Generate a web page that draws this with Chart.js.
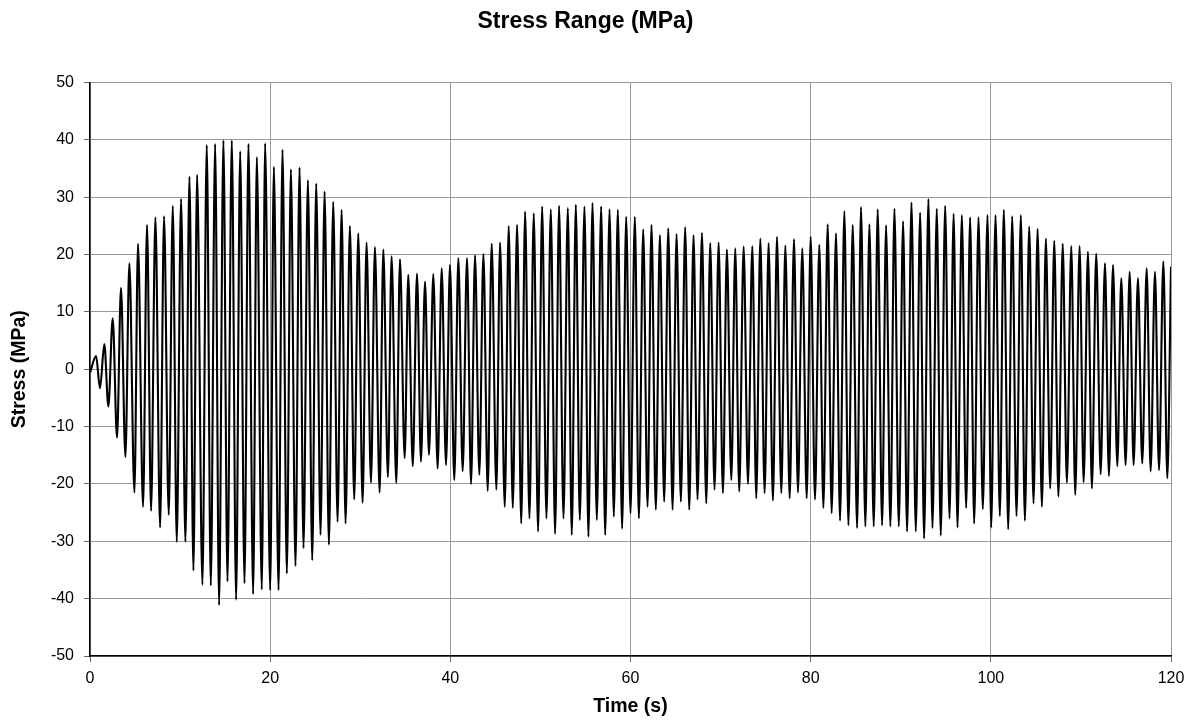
<!DOCTYPE html>
<html>
<head>
<meta charset="utf-8">
<script src="https://cdn.jsdelivr.net/npm/chart.js@4.4.1/dist/chart.umd.min.js"></script>
<style>
  body { margin: 0; background: #fff; }
  #wrap { width: 1192px; height: 720px; }
</style>
</head>
<body>
<div id="wrap"><canvas id="stressChart" width="1192" height="720"></canvas></div>
<script>
// peaks and troughs, in time order
const time = [
  0.0, 0.67, 1.11, 1.59, 2.04, 2.52, 3.0, 3.44, 3.93, 4.37, 4.93, 5.33, 5.89, 6.33, 6.78, 7.26, 7.78, 8.22, 8.74, 9.19,
  9.63, 10.11, 10.59, 11.04, 11.48, 11.89, 12.48, 12.96, 13.41, 13.89, 14.33, 14.81, 15.26, 15.74, 16.22, 16.67, 17.15, 17.59, 18.11, 18.52,
  19.07, 19.44, 20.0, 20.41, 20.93, 21.37, 21.85, 22.30, 22.81, 23.26, 23.70, 24.19, 24.67, 25.11, 25.59, 26.04, 26.52, 27.0, 27.48, 27.93,
  28.37, 28.85, 29.33, 29.78, 30.26, 30.70, 31.19, 31.63, 32.15, 32.56, 33.07, 33.48, 34.0, 34.41, 34.93, 35.33, 35.83, 36.30, 36.74, 37.19,
  37.63, 38.11, 38.59, 39.04, 39.52, 39.96, 40.44, 40.89, 41.37, 41.85, 42.30, 42.74, 43.22, 43.67, 44.15, 44.59, 45.11, 45.52, 46.04, 46.48,
  46.93, 47.41, 47.87, 48.30, 48.78, 49.26, 49.74, 50.19, 50.67, 51.15, 51.63, 52.07, 52.56, 53.04, 53.48, 53.93, 54.37, 54.89, 55.33, 55.78,
  56.26, 56.74, 57.19, 57.67, 58.15, 58.59, 59.07, 59.52, 60.0, 60.48, 60.93, 61.41, 61.89, 62.33, 62.81, 63.26, 63.74, 64.19, 64.67, 65.11,
  65.59, 66.07, 66.52, 67.0, 67.44, 67.93, 68.41, 68.85, 69.33, 69.78, 70.26, 70.70, 71.19, 71.63, 72.07, 72.56, 73.04, 73.52, 73.96, 74.41,
  74.89, 75.33, 75.81, 76.26, 76.74, 77.19, 77.67, 78.15, 78.59, 79.07, 79.56, 80.0, 80.48, 80.96, 81.41, 81.89, 82.33, 82.81, 83.26, 83.74,
  84.19, 84.67, 85.15, 85.59, 86.07, 86.52, 87.0, 87.44, 87.93, 88.37, 88.85, 89.30, 89.78, 90.26, 90.70, 91.19, 91.67, 92.15, 92.59, 93.07,
  93.52, 94.0, 94.44, 94.93, 95.41, 95.87, 96.30, 96.78, 97.26, 97.70, 98.15, 98.63, 99.11, 99.63, 100.04, 100.52, 101.0, 101.44, 101.93, 102.37,
  102.85, 103.33, 103.78, 104.26, 104.74, 105.19, 105.67, 106.11, 106.59, 107.04, 107.50, 107.98, 108.44, 108.93, 109.37, 109.85, 110.30, 110.78, 111.22, 111.70,
  112.19, 112.67, 113.11, 113.56, 114.04, 114.48, 114.96, 115.41, 115.85, 116.33, 116.81, 117.30, 117.74, 118.22, 118.67, 119.15, 119.59, 120.0
];
const stress = [
  -0.6, 2.3, -3.3, 4.4, -6.5, 8.9, -11.9, 14.2, -15.3, 18.5, -21.5, 21.9, -24.0, 25.2, -24.7, 26.5, -27.6, 26.7, -25.4, 28.5,
  -30.1, 29.7, -30.1, 33.6, -35.1, 33.9, -37.6, 39.1, -37.7, 39.3, -41.1, 39.9, -37.0, 39.9, -40.2, 38.0, -37.3, 39.3, -39.2, 37.0,
  -38.4, 39.4, -38.5, 35.3, -38.5, 38.3, -35.6, 34.9, -34.3, 35.2, -31.2, 33.0, -33.3, 32.4, -28.9, 31.0, -30.6, 29.2, -26.6, 27.8,
  -26.9, 25.0, -22.7, 23.7, -23.3, 22.1, -19.8, 21.3, -21.5, 20.9, -18.8, 19.7, -19.8, 19.2, -15.5, 16.5, -16.9, 16.7, -16.1, 15.3,
  -14.9, 16.6, -17.3, 17.6, -16.7, 18.2, -19.3, 19.4, -17.8, 19.4, -20.0, 19.9, -18.4, 20.1, -21.2, 21.9, -21.0, 22.1, -24.0, 25.0,
  -24.2, 25.2, -26.9, 27.5, -26.0, 27.2, -28.3, 28.4, -26.0, 27.9, -28.7, 28.5, -26.0, 28.1, -28.9, 28.7, -26.3, 28.4, -29.2, 29.0,
  -26.3, 28.4, -28.9, 27.9, -25.7, 27.8, -27.8, 26.6, -25.1, 26.6, -26.0, 24.4, -24.0, 25.2, -24.5, 23.4, -23.1, 24.6, -24.5, 23.6,
  -23.1, 24.8, -24.5, 23.4, -22.7, 23.8, -23.4, 22.0, -21.0, 22.1, -21.6, 20.9, -19.3, 21.1, -21.3, 21.4, -20.0, 21.5, -22.5, 22.8,
  -21.6, 22.0, -22.9, 23.1, -21.6, 21.6, -22.5, 22.7, -21.5, 21.1, -22.5, 23.1, -22.7, 21.7, -24.2, 25.3, -25.1, 23.7, -26.4, 27.6,
  -27.2, 25.2, -27.7, 28.3, -27.4, 25.3, -27.4, 27.9, -27.2, 25.1, -27.4, 28.0, -27.4, 25.8, -28.3, 29.1, -28.3, 27.3, -29.5, 29.7,
  -27.7, 28.0, -29.0, 28.5, -26.0, 27.1, -27.6, 26.9, -24.2, 26.5, -26.9, 26.5, -24.4, 26.9, -27.6, 26.9, -25.6, 27.8, -27.9, 26.7,
  -25.6, 26.9, -26.4, 24.9, -23.4, 24.5, -24.0, 22.8, -20.8, 22.4, -22.2, 21.9, -19.8, 21.5, -21.9, 21.5, -19.7, 20.5, -20.8, 20.2,
  -18.3, 18.5, -18.6, 18.2, -16.9, 15.9, -16.7, 17.0, -16.7, 15.9, -16.4, 17.6, -17.8, 17.0, -17.6, 18.8, -19.0, 17.9
];
const xTicks = { min: 0, max: 120, step: 20 };
const yTicks = { min: -50, max: 50, step: 10 };

const FONT = '"Liberation Sans", Arial, sans-serif';

const ctx = document.getElementById('stressChart').getContext('2d');
new Chart(ctx, {
    type: 'line',
    data: {
        datasets: [{
            data: time.map((t, i) => ({ x: t, y: stress[i] })),
            borderColor: '#000',
            borderWidth: 2.1,
            pointRadius: 0,
            fill: false,
            cubicInterpolationMode: 'monotone'
        }]
    },
    options: {
        responsive: false,
        animation: false,
        layout: { padding: { left: 0, right: 21, top: 0, bottom: 0 } },
        plugins: {
            legend: { display: false },
            tooltip: { enabled: false },
            title: {
                display: true,
                text: 'Stress Range (MPa)',
                color: '#000',
                font: { family: FONT, size: 23, weight: 'bold' },
                padding: { top: 8, bottom: 47 }
            }
        },
        scales: {
            x: {
                type: 'linear',
                min: xTicks.min, max: xTicks.max,
                afterFit: s => { s.height = 64; },
                ticks: { stepSize: xTicks.step, color: '#000', padding: 7, maxRotation: 0,
                         font: { family: FONT, size: 16 } },
                grid: { color: '#999', lineWidth: 1, tickLength: 6, tickColor: '#666' },
                border: { color: '#000', width: 1.5 },
                title: { display: true, text: 'Time (s)', color: '#000', padding: { top: 4, bottom: 2 },
                         font: { family: FONT, size: 19.5, weight: 'bold' } }
            },
            y: {
                min: yTicks.min, max: yTicks.max,
                afterFit: s => { s.width = 90; },
                ticks: { stepSize: yTicks.step, color: '#000', padding: 10,
                         font: { family: FONT, size: 16 } },
                grid: { color: '#999', lineWidth: 1, tickLength: 6, tickColor: '#666' },
                border: { color: '#000', width: 1.5 },
                title: { display: true, text: 'Stress (MPa)', color: '#000', padding: { top: 8, bottom: 0 },
                         font: { family: FONT, size: 19.5, weight: 'bold' } }
            }
        }
    }
});
</script>
</body>
</html>
